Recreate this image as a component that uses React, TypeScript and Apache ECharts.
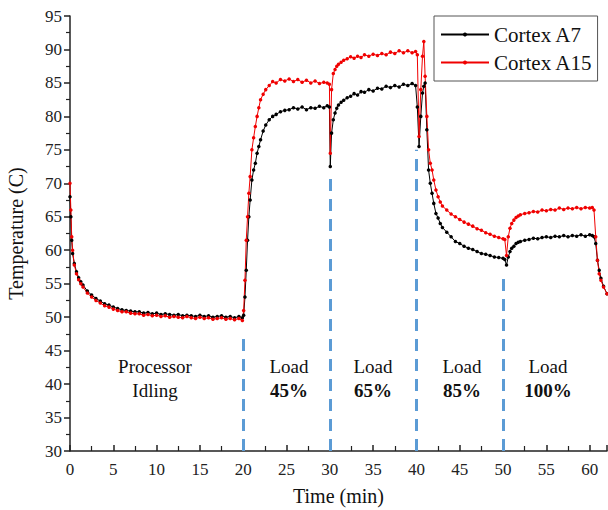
import { useEffect, useRef } from "react";
import * as echarts from "echarts";

const times = [
  0, 0.1, 0.2, 0.3, 0.5, 0.75, 1, 1.25, 1.5, 2, 2.5, 3, 3.5, 4, 4.5, 5, 5.5, 6, 6.5, 7, 7.5, 8, 8.5, 9, 9.5, 10,
  10.5, 11, 11.5, 12, 12.5, 13, 13.5, 14, 14.5, 15, 15.5, 16, 16.5, 17, 17.5, 18, 18.5, 19, 19.5, 19.9,
  20.05, 20.2, 20.35, 20.5, 20.65, 20.8, 21, 21.2, 21.4, 21.6, 21.8, 22, 22.3, 22.6, 23, 23.4, 23.8, 24.3, 24.8,
  25.3, 25.8, 26.3, 26.8, 27.3, 27.8, 28.3, 28.8, 29.3, 29.7, 29.95,
  30.05, 30.2, 30.4, 30.6, 30.8, 31.0, 31.3, 31.6, 32.0, 32.4, 32.8, 33.2, 33.6, 34.0, 34.5, 35.0, 35.5, 36.0,
  36.5, 37.0, 37.5, 38.0, 38.5, 39.0, 39.5, 39.9,
  40.1, 40.3, 40.5, 40.7, 40.85, 41.0, 41.2, 41.4, 41.6, 41.8, 42.0, 42.25, 42.5, 42.75, 43.0, 43.5, 44.0, 44.5,
  45.0, 45.5, 46.0, 46.5, 47.0, 47.5, 48.0, 48.5, 49.0, 49.5, 50.0, 50.2,
  50.4, 50.6, 50.8, 51.0, 51.25, 51.5, 51.75, 52.0, 52.5, 53.0, 53.5, 54.0, 54.5, 55.0, 55.5, 56.0, 56.5, 57.0,
  57.5, 58.0, 58.5, 59.0, 59.5, 60.0, 60.3, 60.5, 60.7, 60.9, 61.1, 61.3, 61.6, 62.0,
];

const a7Temps = [
  68, 65, 61.5, 59.5, 58.0, 56.8, 55.9, 55.3, 54.8, 53.9, 53.3, 52.8, 52.4, 52.0, 51.8, 51.5, 51.3, 51.1, 51.0, 50.9,
  50.8, 50.8, 50.6, 50.7, 50.5, 50.6, 50.4, 50.5, 50.4, 50.3, 50.4, 50.2, 50.3, 50.2, 50.1, 50.3, 50.1, 50.2, 50.0, 50.1,
  50.2, 50.0, 50.1, 49.9, 50.1, 49.9,
  50.3, 53, 57, 61.5, 65, 67.5, 70.5, 72, 73, 74.5, 75.5, 76.5, 77.8, 78.7, 79.5, 80.0, 80.3, 80.7, 80.9, 81.0,
  81.3, 81.1, 81.4, 81.0, 81.3, 81.2, 81.5, 81.3, 81.6, 81.4,
  72.5, 77.5, 79.5, 80.5, 81.2, 81.7, 82.1, 82.4, 82.8, 83.0, 83.4, 83.2, 83.7, 83.6, 84.0, 83.8, 84.2, 84.1, 84.5, 84.3,
  84.6, 84.4, 84.8, 84.6, 84.9, 84.6,
  81.4, 75.5, 80, 83.5, 84.5, 85, 78, 72, 70, 68.5, 67, 65.5, 64.8, 64, 63.4, 62.7, 62, 61.3, 61, 60.6,
  60.3, 60.1, 59.8, 59.5, 59.4, 59.2, 59.0, 58.9, 58.8, 58.6,
  57.8, 59.0, 59.8, 60.3, 60.6, 61.0, 61.2, 61.3, 61.5, 61.6, 61.8, 61.7, 61.9, 62.0, 61.9, 62.1, 62.0, 62.2, 62.0, 62.2,
  62.1, 62.3, 62.1, 62.3, 62.2, 62.0, 61, 58.5, 57, 55.8, 54.6, 53.5,
];

const a15Temps = [
  70, 66, 62, 60, 57.8, 56.5, 55.6, 55.0, 54.5, 53.6, 53.0, 52.5, 52.1, 51.7, 51.5, 51.2, 51.0, 50.8, 50.8, 50.6,
  50.5, 50.5, 50.3, 50.4, 50.2, 50.3, 50.1, 50.2, 50.0, 50.1, 50.0, 49.9, 50.1, 49.9, 49.8, 50.0, 49.8, 49.9, 49.7, 49.8,
  49.9, 49.7, 49.8, 49.6, 49.8, 49.5,
  51, 55.5, 61.5, 65, 68.5, 71, 75, 76.8, 78.5, 80, 81.3, 82.5, 83.3, 84, 84.6, 85.2, 85.0, 85.5, 85.3, 85.6,
  85.2, 85.5, 85.1, 85.4, 85.0, 85.3, 84.9, 85.1, 85.0, 84.8,
  74.5, 84, 86.4, 87.0, 87.5, 87.8, 88.1, 88.4, 88.6, 88.9, 88.7, 89.0, 88.8, 89.2, 89.0, 89.3, 89.1, 89.4, 89.2, 89.6,
  89.4, 89.8, 89.5, 89.8, 89.5, 89.7,
  89.2, 77, 84, 89, 91.2, 86, 80, 75, 73, 72, 70.5, 69, 68, 67.2, 66.6, 66, 65.4, 65, 64.6, 64.2,
  63.9, 63.6, 63.2, 63.0, 62.6, 62.4, 62.1, 61.9, 61.7, 61.6,
  59.2, 62, 63.3, 64, 64.5, 64.9, 65.1, 65.3, 65.5, 65.6, 65.8, 65.7, 66.0, 65.9, 66.1, 66.0, 66.3, 66.1, 66.3, 66.2,
  66.4, 66.2, 66.4, 66.3, 66.4, 66.0, 62, 58.5, 56.5, 55.5, 54.5, 53.5,
];

const seriesNames = ["Cortex A7", "Cortex A15"];
const dividerTimes = [20, 30, 40, 50];
const dividerTops = [47.3, 71.7, 75, 56.6];
const phaseTop = ["Processor", "Load", "Load", "Load", "Load"];
const phaseBottom = ["Idling", "45%", "65%", "85%", "100%"];
const phaseCenters = [155, 289, 373, 462, 548];

const FONT = "'Liberation Serif', 'Times New Roman', serif";

export default function App() {
  const ref = useRef<HTMLDivElement>(null);
  useEffect(() => {
    const chart = echarts.init(ref.current!, null, { renderer: "svg" });
    const a7 = times.map((t, i) => [t, a7Temps[i]]);
    const a15 = times.map((t, i) => [t, a15Temps[i]]);
    const graphics: any[] = [];
    phaseCenters.forEach((cx, i) => {
      graphics.push({
        type: "text",
        x: cx,
        y: 366,
        style: { text: phaseTop[i], font: `19px ${FONT}`, fill: "#111", textAlign: "center", textVerticalAlign: "middle" },
      });
      graphics.push({
        type: "text",
        x: cx,
        y: 390,
        style: {
          text: phaseBottom[i],
          font: `${i === 0 ? "normal" : "bold"} 19px ${FONT}`,
          fill: "#111",
          textAlign: "center",
          textVerticalAlign: "middle",
        },
      });
    });
    chart.setOption({
      animation: false,
      grid: { left: 70, right: 1, top: 16, bottom: 59, outerBoundsMode: "none", containLabel: false },
      legend: {
        orient: "vertical",
        left: 434,
        top: 16,
        data: seriesNames,
        borderColor: "#555",
        borderWidth: 1,
        borderRadius: 0,
        padding: [8, 5, 8, 6],
        itemGap: 7,
        itemWidth: 48,
        itemHeight: 5,
        textStyle: { fontFamily: FONT, fontSize: 21, color: "#111" },
      },
      xAxis: {
        type: "value",
        min: 0,
        max: 62,
        interval: 5,
        name: "Time (min)",
        nameLocation: "middle",
        nameGap: 35,
        nameTextStyle: { fontFamily: FONT, fontSize: 20, color: "#111" },
        axisLine: { show: true, lineStyle: { color: "#222", width: 1.5 } },
        axisTick: { show: true, inside: true, length: 6, lineStyle: { color: "#222", width: 1.5 } },
        minorTick: { show: true, splitNumber: 2, length: 5, lineStyle: { color: "#222", width: 1.2 } },
        axisLabel: { fontFamily: FONT, fontSize: 17, color: "#222", margin: 10, showMaxLabel: false },
        splitLine: { show: false },
      },
      yAxis: {
        type: "value",
        min: 30,
        max: 95,
        interval: 5,
        name: "Temperature (C)",
        nameLocation: "middle",
        nameGap: 44,
        nameTextStyle: { fontFamily: FONT, fontSize: 20, color: "#111" },
        axisLine: { show: true, lineStyle: { color: "#222", width: 1.5 } },
        axisTick: { show: true, length: 6, lineStyle: { color: "#222", width: 1.5 } },
        minorTick: { show: true, splitNumber: 2, length: 4, lineStyle: { color: "#222", width: 1.2 } },
        axisLabel: { fontFamily: FONT, fontSize: 17, color: "#222", margin: 8 },
        splitLine: { show: false },
      },
      series: [
        {
          name: seriesNames[0],
          type: "line",
          data: a7,
          symbol: "circle",
          symbolSize: 3.5,
          showSymbol: true,
          color: "#000",
          lineStyle: { width: 1, color: "#000" },
          markLine: {
            silent: true,
            symbol: "none",
            label: { show: false },
            lineStyle: { color: "#5b9bd5", width: 3, type: [12, 8] },
            data: dividerTimes.map((t, i) => [
              { coord: [t, 30] },
              { coord: [t, dividerTops[i]] },
            ]),
          },
        },
        {
          name: seriesNames[1],
          type: "line",
          data: a15,
          symbol: "circle",
          symbolSize: 3.5,
          showSymbol: true,
          color: "#f00000",
          lineStyle: { width: 1, color: "#f00000" },
        },
      ],
      graphic: graphics,
    });
    return () => chart.dispose();
  }, []);
  return <div ref={ref} style={{ position: "absolute", left: 0, top: 0, width: 608, height: 510 }} />;
}
